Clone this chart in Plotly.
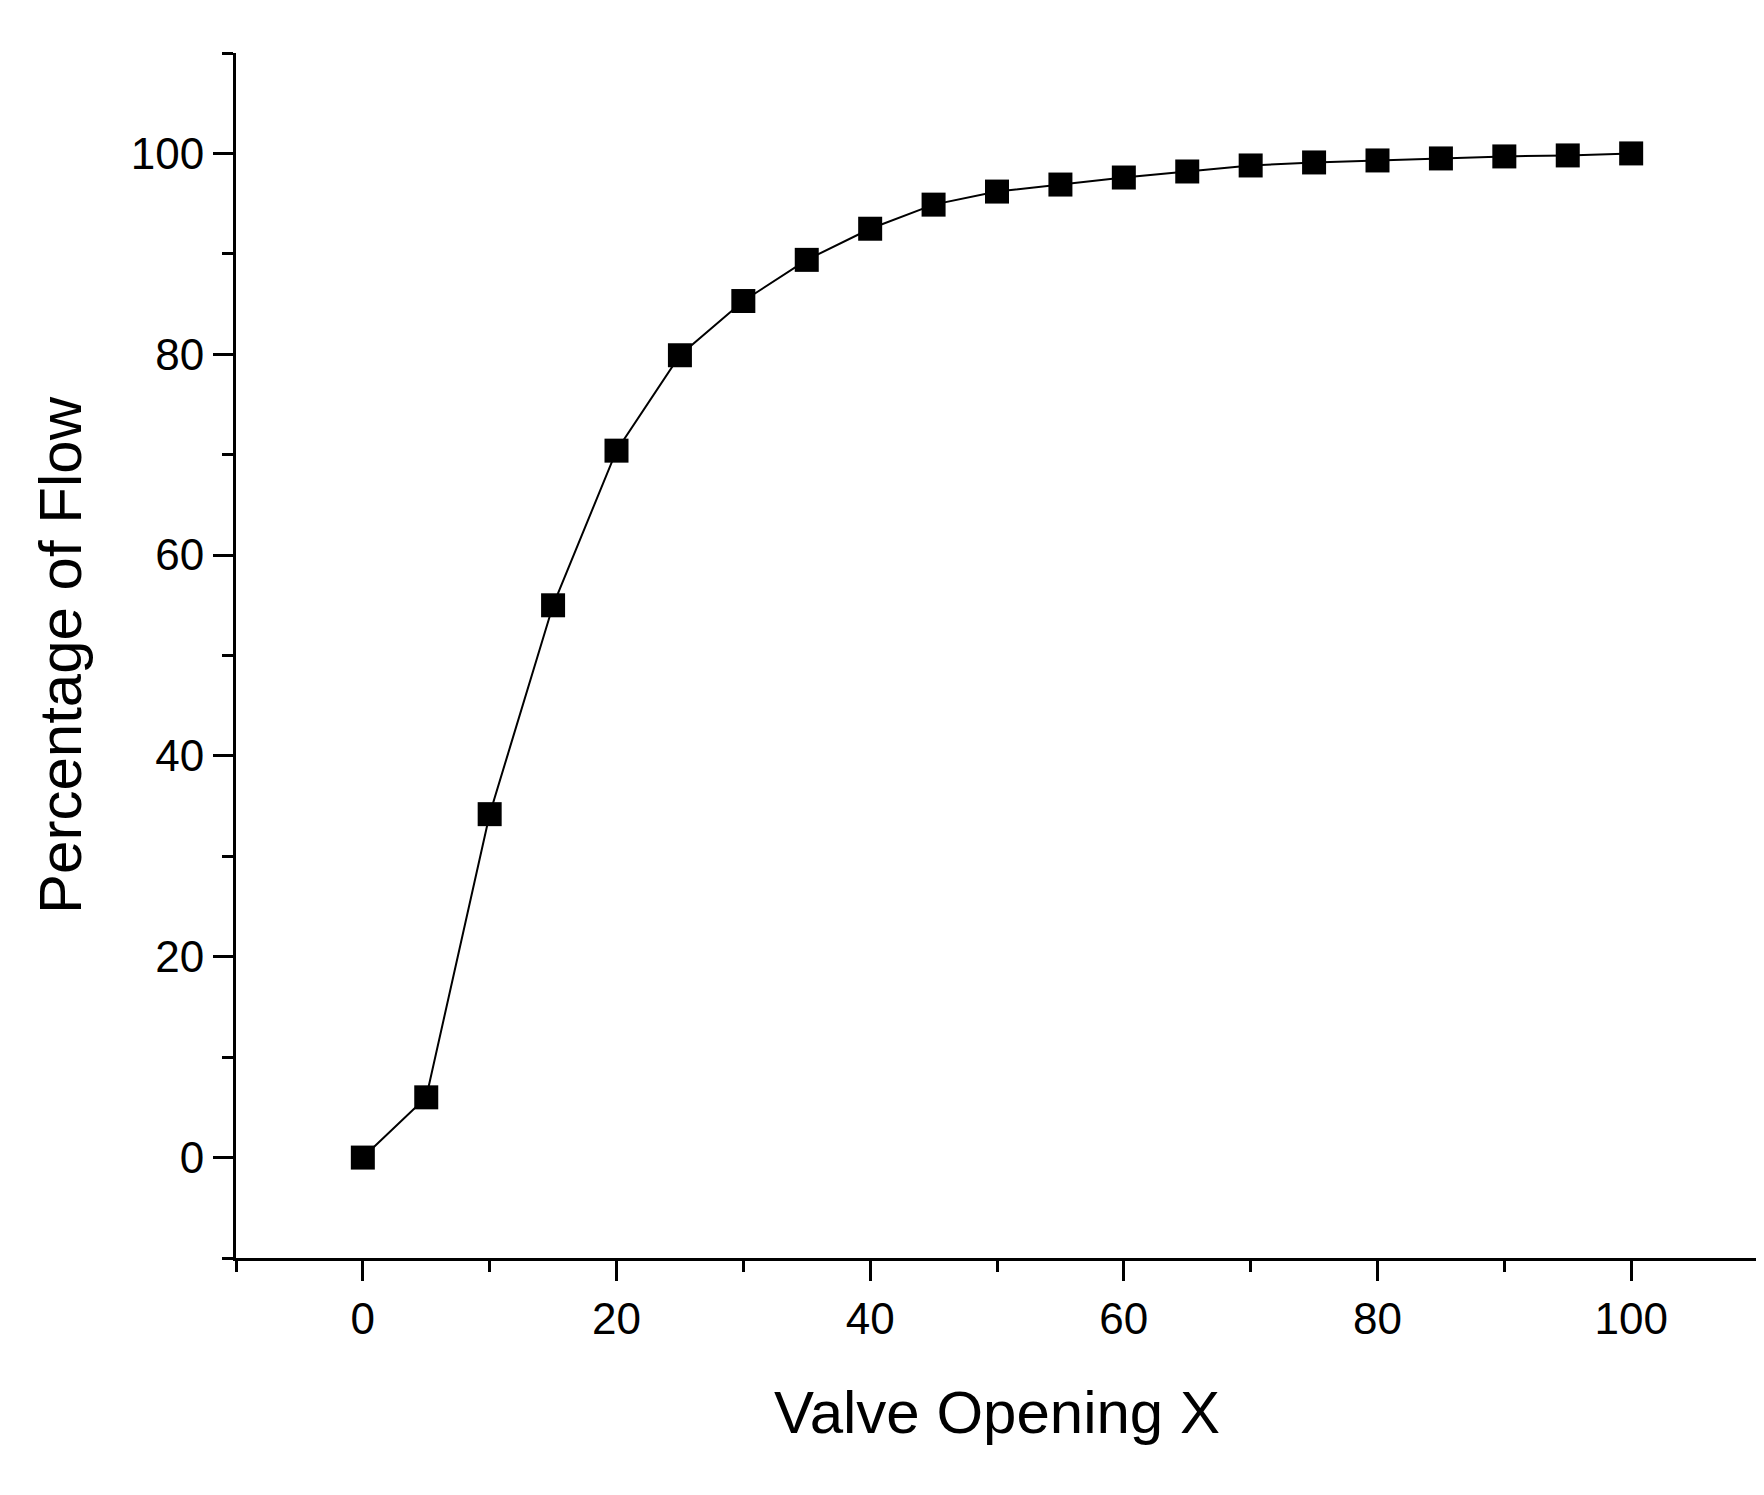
import plotly.graph_objects as go

valve_opening = [0, 5, 10, 15, 20, 25, 30, 35, 40, 45, 50, 55, 60, 65, 70, 75, 80, 85, 90, 95, 100]
flow_pct = [0, 6.0, 34.2, 55.0, 70.4, 79.9, 85.3, 89.4, 92.5, 94.9, 96.2, 96.9, 97.6, 98.2, 98.8, 99.1, 99.3, 99.5, 99.7, 99.8, 100]

fig = go.Figure(go.Scatter(
    x=valve_opening, y=flow_pct, mode="lines+markers",
    line=dict(color="black", width=2),
    marker=dict(symbol="square", size=24, color="black"),
    showlegend=False))

font = dict(family="Liberation Sans, Arial", color="black")
axis_common = dict(showgrid=False, zeroline=False, showline=True, linecolor="black", linewidth=3,
                   ticks="outside", ticklen=20, tickwidth=3, tickcolor="black",
                   tickfont=dict(size=44, **font), dtick=20,
                   minor=dict(ticks="outside", ticklen=11, tickwidth=3, tickcolor="black", dtick=10))
fig.update_xaxes(range=[-10, 110], tick0=0, title=dict(text="Valve Opening X", font=dict(size=60, **font), standoff=50), **axis_common)
fig.update_yaxes(range=[-10, 110], tick0=0, title=dict(text="Percentage of Flow", font=dict(size=60, **font), standoff=30), **axis_common)
fig.update_layout(width=1764, height=1495, plot_bgcolor="white", paper_bgcolor="white",
                  margin=dict(l=228, r=14, t=45, b=245))
fig.write_html("out.html")
